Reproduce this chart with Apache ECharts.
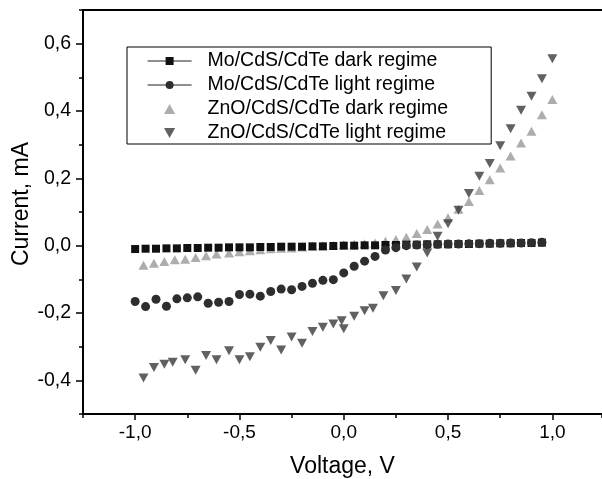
<!DOCTYPE html>
<html><head><meta charset="utf-8">
<script src="https://cdn.jsdelivr.net/npm/echarts@6/dist/echarts.min.js"></script>
<style>html,body{margin:0;padding:0;background:#fff}#c{width:602px;height:479px}</style>
</head><body><div id="c"></div>
<script>
// ---- data (voltage V, current mA) ----
const moDarkV = [-1.00,-0.95,-0.90,-0.85,-0.80,-0.75,-0.70,-0.65,-0.60,-0.55,-0.50,-0.45,-0.40,-0.35,-0.30,-0.25,-0.20,-0.15,-0.10,-0.05,0.00,0.05,0.10,0.15,0.20,0.25,0.30,0.35,0.40,0.45,0.50,0.55,0.60,0.65,0.70,0.75,0.80,0.85,0.90,0.95];
const moDarkI = [-0.010,-0.009,-0.009,-0.008,-0.008,-0.007,-0.007,-0.006,-0.006,-0.005,-0.005,-0.005,-0.004,-0.004,-0.003,-0.003,-0.003,-0.002,-0.002,-0.001,0.000,0.000,0.001,0.001,0.002,0.002,0.003,0.003,0.004,0.004,0.004,0.005,0.005,0.006,0.006,0.007,0.007,0.008,0.008,0.009];

const moLightV = [-1.00,-0.95,-0.90,-0.85,-0.80,-0.75,-0.70,-0.65,-0.60,-0.55,-0.50,-0.45,-0.40,-0.35,-0.30,-0.25,-0.20,-0.15,-0.10,-0.05,0.00,0.05,0.10,0.15,0.20,0.25,0.30,0.35,0.40,0.45,0.50,0.55,0.60,0.65,0.70,0.75,0.80,0.85,0.90,0.95];
const moLightI = [-0.166,-0.181,-0.159,-0.180,-0.158,-0.155,-0.152,-0.171,-0.168,-0.166,-0.145,-0.144,-0.150,-0.136,-0.129,-0.131,-0.121,-0.112,-0.103,-0.101,-0.081,-0.061,-0.046,-0.032,-0.013,-0.006,0.000,0.002,0.003,0.004,0.005,0.005,0.006,0.006,0.007,0.007,0.008,0.008,0.009,0.010];

const znoDarkV = [-0.96,-0.91,-0.86,-0.81,-0.76,-0.71,-0.66,-0.61,-0.55,-0.50,-0.45,-0.40,-0.35,-0.30,-0.25,-0.20,-0.15,-0.10,-0.05,0.00,0.05,0.10,0.15,0.20,0.25,0.30,0.35,0.40,0.45,0.50,0.55,0.60,0.65,0.70,0.75,0.80,0.85,0.90,0.95,1.00];
const znoDarkI = [-0.058,-0.052,-0.047,-0.042,-0.040,-0.035,-0.030,-0.025,-0.022,-0.018,-0.015,-0.012,-0.009,-0.008,-0.007,-0.004,-0.002,0.000,0.001,0.003,0.004,0.006,0.008,0.013,0.018,0.025,0.036,0.048,0.064,0.083,0.108,0.131,0.164,0.196,0.231,0.266,0.305,0.340,0.389,0.434];

const znoLightV = [-0.96,-0.91,-0.86,-0.82,-0.76,-0.71,-0.66,-0.61,-0.55,-0.50,-0.45,-0.40,-0.35,-0.30,-0.25,-0.20,-0.15,-0.10,-0.05,-0.01,0.00,0.05,0.10,0.14,0.19,0.25,0.30,0.35,0.40,0.45,0.50,0.55,0.60,0.65,0.70,0.75,0.80,0.85,0.90,0.95,1.00];
const znoLightI = [-0.393,-0.362,-0.352,-0.346,-0.339,-0.370,-0.326,-0.339,-0.312,-0.339,-0.330,-0.302,-0.282,-0.310,-0.271,-0.290,-0.255,-0.242,-0.233,-0.223,-0.247,-0.210,-0.193,-0.186,-0.149,-0.133,-0.099,-0.063,-0.022,0.028,0.065,0.105,0.155,0.206,0.244,0.297,0.347,0.402,0.444,0.496,0.555];

const seriesNames = ['Mo/CdS/CdTe dark regime','Mo/CdS/CdTe light regime','ZnO/CdS/CdTe dark regime','ZnO/CdS/CdTe light regime'];
const xMajorTicks = [-1.0,-0.5,0.0,0.5,1.0];
const yMajorTicks = [-0.4,-0.2,0.0,0.2,0.4,0.6];
const xTitle = 'Voltage, V';
const yTitle = 'Current, mA';

// ---- chart ----
const FONT = 'Liberation Sans, Arial, sans-serif';
const fmt = v => (Math.abs(v) < 1e-9 ? 0 : v).toFixed(1).replace('.', ',');
const pairs = (xs, ys) => xs.map((x, i) => [x, ys[i]]);
const X_MIN = -1.25, X_MAX = 1.238, Y_MIN = -0.5, Y_MAX = 0.7;

const chart = echarts.init(document.getElementById('c'), null, {renderer: 'canvas'});
const axisLine = {show: true, onZero: false, lineStyle: {color: '#000', width: 2}};
const tickStyle = {color: '#000', width: 1.5};
chart.setOption({
  animation: false,
  backgroundColor: '#fff',
  grid: {left: 83, top: 10, right: 0, height: 404, containLabel: false, outerBoundsMode: 'none'},
  xAxis: [
    {type: 'value', position: 'bottom', min: X_MIN, max: X_MAX, interval: 0.25,
     axisLine: axisLine,
     axisTick: {show: true, length: 4, lineStyle: tickStyle},
     axisLabel: {customValues: xMajorTicks, formatter: fmt, margin: 9, color: '#000', fontFamily: FONT, fontSize: 19},
     splitLine: {show: false},
     name: xTitle, nameLocation: 'middle', nameGap: 41, nameMoveOverlap: false,
     nameTextStyle: {color: '#000', fontFamily: FONT, fontSize: 23}},
    {type: 'value', position: 'bottom', min: X_MIN, max: X_MAX, interval: 0.25,
     axisLine: {show: false, onZero: false},
     axisTick: {show: true, customValues: xMajorTicks, length: 6, lineStyle: tickStyle},
     axisLabel: {show: false}, splitLine: {show: false}},
    {type: 'value', position: 'top', min: X_MIN, max: X_MAX, interval: 0.25,
     axisLine: axisLine,
     axisTick: {show: false}, axisLabel: {show: false}, splitLine: {show: false}}
  ],
  yAxis: [
    {type: 'value', position: 'left', min: Y_MIN, max: Y_MAX, interval: 0.1,
     axisLine: axisLine,
     axisTick: {show: true, length: 4, lineStyle: tickStyle},
     axisLabel: {customValues: yMajorTicks, formatter: fmt, margin: 12, color: '#000', fontFamily: FONT, fontSize: 19.5},
     splitLine: {show: false},
     name: yTitle, nameLocation: 'middle', nameGap: 50, nameMoveOverlap: false,
     nameTextStyle: {color: '#000', fontFamily: FONT, fontSize: 23, padding: [0, 0, 0, 16]}},
    {type: 'value', position: 'left', min: Y_MIN, max: Y_MAX, interval: 0.1,
     axisLine: {show: false, onZero: false},
     axisTick: {show: true, customValues: yMajorTicks, length: 7, lineStyle: tickStyle},
     axisLabel: {show: false}, splitLine: {show: false}}
  ],
  legend: {
    orient: 'vertical', left: 127, top: 47,
    data: [
      {name: seriesNames[0]},
      {name: seriesNames[1]},
      {name: seriesNames[2], icon: 'path://M0,9L5,0L10,9Z'},
      {name: seriesNames[3], icon: 'path://M0,0L10,0L5,9Z'}
    ],
    itemWidth: 44, itemHeight: 10, itemGap: 2,
    symbolKeepAspect: true,
    padding: [3, 43, 0, 20],
    borderColor: '#000', borderWidth: 1,
    selectedMode: false,
    lineStyle: {width: 1.2, color: '#222', opacity: 1},
    textStyle: {fontFamily: FONT, fontSize: 19.5, color: '#000', lineHeight: 22, padding: [0, 0, 0, 11]}
  },
  series: [
    {name: seriesNames[0], type: 'line', data: pairs(moDarkV, moDarkI),
     symbol: 'rect', symbolSize: 8, showSymbol: true,
     itemStyle: {color: '#111', borderWidth: 0}, lineStyle: {opacity: 0}, emphasis: {disabled: true}},
    {name: seriesNames[1], type: 'line', data: pairs(moLightV, moLightI),
     symbol: 'circle', symbolSize: 9, showSymbol: true,
     itemStyle: {color: '#2e2e2e', borderWidth: 0}, lineStyle: {opacity: 0}, emphasis: {disabled: true}},
    {name: seriesNames[2], type: 'scatter', data: pairs(znoDarkV, znoDarkI),
     symbol: 'triangle', symbolSize: [10, 9],
     itemStyle: {color: '#999999'}, emphasis: {disabled: true}},
    {name: seriesNames[3], type: 'scatter', data: pairs(znoLightV, znoLightI),
     symbol: 'triangle', symbolRotate: 180, symbolSize: [10, 9],
     itemStyle: {color: '#3a3a3a'}, emphasis: {disabled: true}}
  ]
});
</script></body></html>
